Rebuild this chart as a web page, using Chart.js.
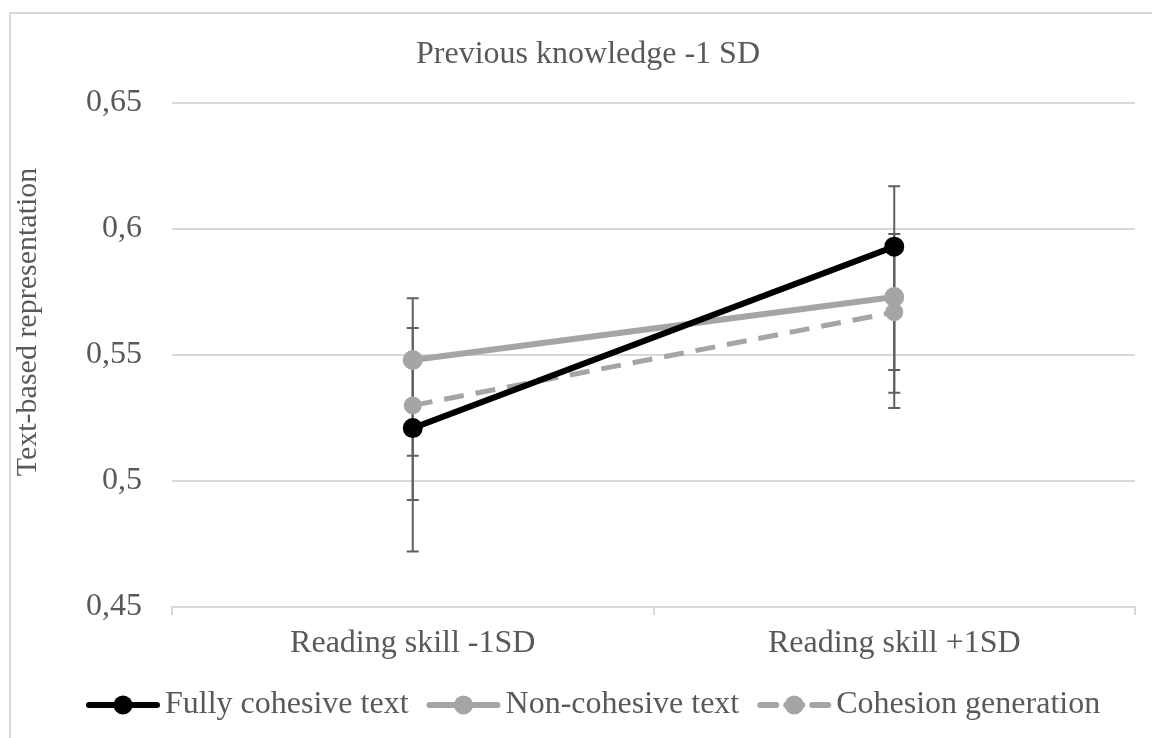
<!DOCTYPE html>
<html>
<head>
<meta charset="utf-8">
<script src="https://cdn.jsdelivr.net/npm/chart.js@4/dist/chart.umd.min.js"></script>
<style>
  html, body { margin: 0; padding: 0; background: #fff; }
  #wrap { width: 1152px; height: 738px; position: relative; }
</style>
</head>
<body>
<div id="wrap"><canvas id="c" width="1152" height="738"></canvas></div>
<script>
const categories = ['Reading skill -1SD', 'Reading skill +1SD'];
const seriesNames = ['Fully cohesive text', 'Non-cohesive text', 'Cohesion generation'];
const fullyCohesive = [0.521, 0.593];
const nonCohesive = [0.548, 0.573];
const cohesionGeneration = [0.530, 0.567];
// error bar ends (low / high) per series
const fullyLow = [0.472, 0.544];
const fullyHigh = [0.5725, 0.594];
const nonLow = [0.4925, 0.529];
const nonHigh = [0.5607, 0.617];
const genLow = [0.510, 0.535];
const genHigh = [0.550, 0.598];
const yTicks = [0.45, 0.5, 0.55, 0.6, 0.65];
const chartTitle = 'Previous knowledge -1 SD';
const yAxisTitle = 'Text-based representation';

const FONT = "'Liberation Serif', 'Times New Roman', serif";
const TXT = '#595959';
const GRID = '#d9d9d9';
const BLACK = '#000000';
const GRAY = '#a5a5a5';

const errorBars = {
  id: 'errorBars',
  beforeDatasetsDraw(chart) {
    const ctx = chart.ctx;
    const y = chart.scales.y;
    const lows = [fullyLow, nonLow, genLow];
    const highs = [fullyHigh, nonHigh, genHigh];
    ctx.save();
    ctx.strokeStyle = '#606060';
    ctx.lineWidth = 2;
    chart.data.datasets.forEach((ds, i) => {
      const meta = chart.getDatasetMeta(i);
      meta.data.forEach((pt, j) => {
        const x = pt.x;
        const y1 = y.getPixelForValue(lows[i][j]);
        const y2 = y.getPixelForValue(highs[i][j]);
        ctx.beginPath();
        ctx.moveTo(x, y1); ctx.lineTo(x, y2);
        ctx.moveTo(x - 6, y1); ctx.lineTo(x + 6, y1);
        ctx.moveTo(x - 6, y2); ctx.lineTo(x + 6, y2);
        ctx.stroke();
      });
    });
    ctx.restore();
  }
};

const frame = {
  id: 'frame',
  beforeDraw(chart) {
    const ctx = chart.ctx;
    ctx.save();
    ctx.fillStyle = '#fff';
    ctx.fillRect(0, 0, chart.width, chart.height);
    ctx.strokeStyle = GRID;
    ctx.lineWidth = 2;
    ctx.beginPath();
    ctx.moveTo(10, chart.height + 2);
    ctx.lineTo(10, 13);
    ctx.lineTo(chart.width + 2, 13);
    ctx.stroke();
    ctx.restore();
  }
};

const texts = {
  id: 'texts',
  afterDraw(chart) {
    const ctx = chart.ctx;
    ctx.save();
    ctx.fillStyle = TXT;
    ctx.textBaseline = 'middle';
    ctx.textAlign = 'center';
    ctx.font = '32px ' + FONT;
    ctx.fillText(chartTitle, 588, 55);
    ctx.save();
    ctx.translate(28, 322);
    ctx.rotate(-Math.PI / 2);
    ctx.font = '30px ' + FONT;
    ctx.fillText(yAxisTitle, 0, 0);
    ctx.restore();

    // legend: line + marker sample, then label
    ctx.font = '32px ' + FONT;
    ctx.textAlign = 'left';
    const ly = 705;
    let x = 86;
    const sw = 74;
    chart.data.datasets.forEach((ds, i) => {
      ctx.save();
      ctx.strokeStyle = ds.borderColor;
      ctx.fillStyle = ds.borderColor;
      ctx.lineWidth = 6;
      ctx.lineCap = 'round';
      if (ds.borderDash) ctx.setLineDash([16, 10]);
      ctx.beginPath(); ctx.moveTo(x + 3, ly); ctx.lineTo(x + sw - 3, ly); ctx.stroke();
      ctx.setLineDash([]);
      ctx.beginPath(); ctx.arc(x + sw / 2, ly, 9.5, 0, Math.PI * 2); ctx.fill();
      ctx.restore();
      ctx.fillStyle = TXT;
      ctx.fillText(ds.label, x + sw + 5, ly);
      x += sw + 5 + ctx.measureText(ds.label).width + 18;
    });
    ctx.restore();
  }
};

new Chart(document.getElementById('c'), {
  type: 'line',
  data: {
    labels: categories,
    datasets: [
      { label: seriesNames[0], data: fullyCohesive, borderColor: BLACK, backgroundColor: BLACK,
        borderWidth: 6, pointRadius: 9, pointBorderWidth: 2, pointBackgroundColor: BLACK, pointBorderColor: BLACK },
      { label: seriesNames[1], data: nonCohesive, borderColor: GRAY, backgroundColor: GRAY,
        borderWidth: 6, pointRadius: 9, pointBorderWidth: 2, pointBackgroundColor: GRAY, pointBorderColor: GRAY },
      { label: seriesNames[2], data: cohesionGeneration, borderColor: GRAY, backgroundColor: GRAY,
        borderWidth: 5, borderDash: [20, 12], pointRadius: 8, pointBorderWidth: 2, pointBackgroundColor: GRAY, pointBorderColor: GRAY }
    ]
  },
  options: {
    responsive: false,
    animation: false,
    devicePixelRatio: 1,
    layout: { padding: { left: 10, right: 17, top: 103, bottom: 74 } },
    plugins: {
      title: { display: false },
      legend: { display: false },
      tooltip: { enabled: false }
    },
    scales: {
      x: {
        offset: true,
        grid: { offset: true, drawOnChartArea: false, color: GRID, lineWidth: 2, tickLength: 8 },
        border: { color: GRID, width: 2 },
        ticks: { color: TXT, font: { family: FONT, size: 32 }, padding: 9, maxRotation: 0 },
        afterFit(scale) { scale.height = 57; }
      },
      y: {
        min: 0.45, max: 0.65,
        afterBuildTicks(scale) { scale.ticks = yTicks.map(v => ({ value: v })); },
        grid: { color: GRID, lineWidth: 2, drawTicks: false },
        border: { display: false },
        ticks: {
          color: TXT, font: { family: FONT, size: 32 }, padding: 30,
          callback: (v) => String(Math.round(v * 100) / 100).replace('.', ',')
        },
        afterFit(scale) { scale.width = 162; }
      }
    }
  },
  plugins: [frame, errorBars, texts]
});
</script>
</body>
</html>
